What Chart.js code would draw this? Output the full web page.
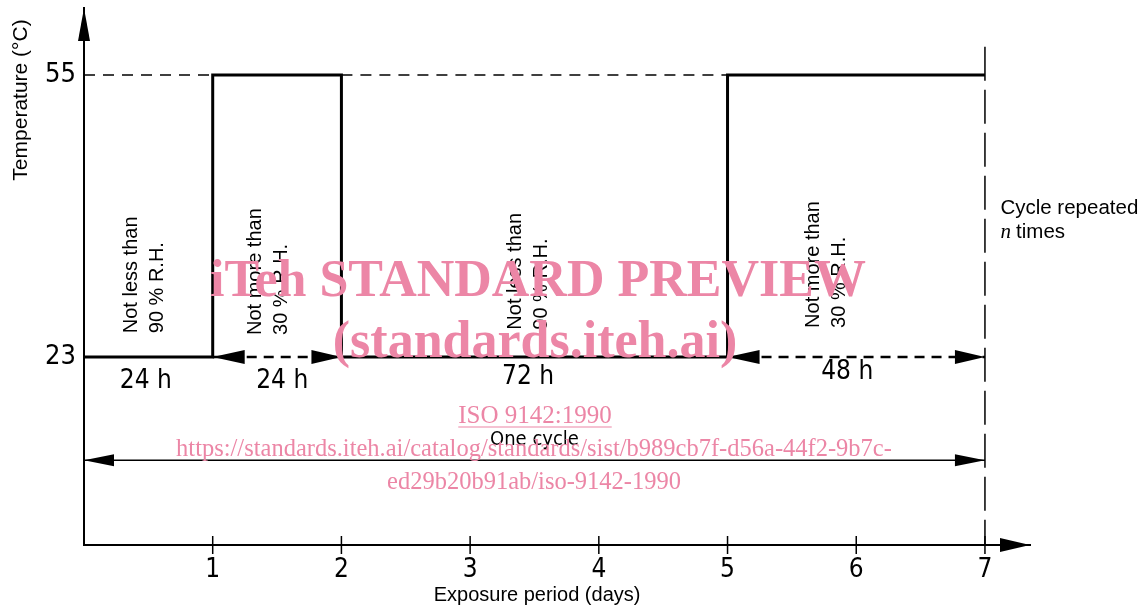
<!DOCTYPE html>
<html>
<head>
<meta charset="utf-8">
<script src="https://cdn.jsdelivr.net/npm/chart.js@4.4.1/dist/chart.umd.min.js"></script>
<style>
  html, body { margin: 0; padding: 0; background: #fff; }
  #wrap { width: 1146px; height: 608px; }
</style>
</head>
<body>
<div id="wrap"><canvas id="cycleChart"></canvas></div>
<script>
// axis ticks
var dayTicks = [1, 2, 3, 4, 5, 6, 7];
var tempTicks = [23, 55];

// temperature profile (solid step line)
var profileDays = [0, 1, 1, 2, 2, 5, 5, 7];
var profileTemps = [23, 23, 55, 55, 23, 23, 55, 55];

// dashed reference at 55 °C where temperature is low
var refDays = [0, 1, null, 2, 5];
var refTemps = [55, 55, null, 55, 55];

// dashed double arrows at 23 level during hot periods
var hotSpans = [[1, 2], [5, 7]];

// one cycle arrow
var cycleSpan = [0, 7];
var cycleTemp = 11.3;

// durations under the line
var durationLabels = ['24 h', '24 h', '72 h', '48 h'];
var durationDays = [0.48, 1.54, 3.45, 5.93];
var durationTemps = [20.2, 20.2, 20.7, 21.3];

// humidity notes (rotated)
var rhNotes = [['Not less than', '90 % R.H.'], ['Not more than', '30 % R.H.'],
               ['Not less than', '90 % R.H.'], ['Not more than', '30 % R.H.']];
var rhDays = [0.47, 1.43, 3.45, 5.77];
var rhTemps = [25.7, 25.5, 26.1, 26.3];

var narrow = '"Liberation Sans Narrow", "DejaVu Sans Condensed", sans-serif';
var sans = '"Liberation Sans", Arial, sans-serif';
var pink = '#ec86a6';

function pts(xs, ys) {
	var out = [];
	for (var i = 0; i < xs.length; i++) out.push({x: xs[i], y: ys[i]});
	return out;
}

function head(ctx, x, y, dx, dy, len, half) {
	ctx.beginPath();
	ctx.moveTo(x, y);
	ctx.lineTo(x - dx * len - dy * half, y - dy * len + dx * half);
	ctx.lineTo(x - dx * len + dy * half, y - dy * len - dx * half);
	ctx.closePath();
	ctx.fill();
}

var overlay = {
	id: 'overlay',
	afterDatasetsDraw: function(chart) {
		var ctx = chart.ctx, xs = chart.scales.x, ys = chart.scales.y, a = chart.chartArea;
		ctx.save();
		ctx.fillStyle = '#000';
		ctx.strokeStyle = '#000';

		// axis arrows
		head(ctx, a.left, a.top, 0, -1, 33, 6);
		head(ctx, a.right, a.bottom, 1, 0, 30, 7);

		// crossing ticks on the day axis
		ctx.lineWidth = 1.5;
		dayTicks.forEach(function(d) {
			var px = xs.getPixelForValue(d);
			ctx.beginPath();
			ctx.moveTo(px, a.bottom - 9);
			ctx.lineTo(px, a.bottom + 9);
			ctx.stroke();
		});

		// arrow heads on the hot spans
		var y23 = ys.getPixelForValue(23);
		hotSpans.forEach(function(s) {
			head(ctx, xs.getPixelForValue(s[0]), y23, -1, 0, 32, 7);
			head(ctx, xs.getPixelForValue(s[1]), y23, 1, 0, 30, 7);
		});

		// one cycle arrow heads
		var yc = ys.getPixelForValue(cycleTemp);
		head(ctx, xs.getPixelForValue(cycleSpan[0]), yc, -1, 0, 30, 6);
		head(ctx, xs.getPixelForValue(cycleSpan[1]), yc, 1, 0, 30, 6);

		// durations
		ctx.font = '26px ' + narrow;
		ctx.textAlign = 'center';
		ctx.textBaseline = 'middle';
		durationLabels.forEach(function(t, i) {
			ctx.fillText(t, xs.getPixelForValue(durationDays[i]), ys.getPixelForValue(durationTemps[i]));
		});

		ctx.font = '20px ' + narrow;
		ctx.fillText('One cycle', xs.getPixelForValue(3.5), ys.getPixelForValue(13.6));

		// humidity notes
		ctx.font = '20px ' + sans;
		ctx.textAlign = 'left';
		rhNotes.forEach(function(lines, i) {
			var cx = xs.getPixelForValue(rhDays[i]), by = ys.getPixelForValue(rhTemps[i]);
			lines.forEach(function(t, j) {
				ctx.save();
				ctx.translate(cx + (j - 0.5) * 26, by);
				ctx.rotate(-Math.PI / 2);
				ctx.fillText(t, 0, 0);
				ctx.restore();
			});
		});

		// cycle repeated note
		var nx = xs.getPixelForValue(7.12);
		ctx.font = '20.5px ' + sans;
		ctx.fillText('Cycle repeated', nx, ys.getPixelForValue(39.9));
		ctx.font = 'italic 21px "Liberation Serif", serif';
		ctx.fillText('n', nx, ys.getPixelForValue(37.1));
		ctx.font = '20.5px ' + sans;
		ctx.fillText(' times', nx + 10, ys.getPixelForValue(37.1));

		// axis titles
		ctx.font = '20px ' + sans;
		ctx.textAlign = 'center';
		ctx.fillText('Exposure period (days)', xs.getPixelForValue(3.52), 595);
		ctx.save();
		ctx.translate(21, 100);
		ctx.rotate(-Math.PI / 2);
		ctx.font = '21px ' + sans;
		ctx.fillText('Temperature (°C)', 0, 0);
		ctx.restore();
		ctx.restore();
	},
	afterDraw: function(chart) {
		// watermark of the source document
		var ctx = chart.ctx;
		ctx.save();
		ctx.fillStyle = pink;
		ctx.strokeStyle = pink;
		ctx.textAlign = 'center';
		ctx.textBaseline = 'alphabetic';
		ctx.font = 'bold 52px "Liberation Serif", serif';
		ctx.fillText('iTeh STANDARD PREVIEW', 538, 296);
		ctx.fillText('(standards.iteh.ai)', 535, 357);
		ctx.font = '25px "Liberation Serif", serif';
		ctx.fillText('ISO 9142:1990', 535, 423);
		var w = ctx.measureText('ISO 9142:1990').width;
		ctx.lineWidth = 1.2;
		ctx.beginPath();
		ctx.moveTo(535 - w / 2, 427);
		ctx.lineTo(535 + w / 2, 427);
		ctx.stroke();
		ctx.font = '24.5px "Liberation Serif", serif';
		ctx.fillText('https://standards.iteh.ai/catalog/standards/sist/b989cb7f-d56a-44f2-9b7c-', 534, 456);
		ctx.fillText('ed29b20b91ab/iso-9142-1990', 534, 489);
		ctx.restore();
	}
};

var ctx = document.getElementById('cycleChart').getContext('2d');
var cycleChart = new Chart(ctx, {
	type: 'line',
	data: {
		datasets: [{
			label: 'Temperature',
			data: pts(profileDays, profileTemps),
			borderColor: '#000',
			borderWidth: 3,
			pointRadius: 0
		}, {
			label: '55 reference',
			data: pts(refDays, refTemps),
			borderColor: '#000',
			borderWidth: 1.5,
			borderDash: [11, 8],
			pointRadius: 0,
			spanGaps: false
		}, {
			label: 'Hot spans',
			data: pts([hotSpans[0][0], hotSpans[0][1], null, hotSpans[1][0], hotSpans[1][1]], [23, 23, null, 23, 23]),
			borderColor: '#000',
			borderWidth: 2.5,
			borderDash: [10, 7],
			pointRadius: 0,
			spanGaps: false
		}, {
			label: 'Cycle end',
			data: pts([7, 7], [58.2, 1.67]),
			borderColor: '#000',
			borderWidth: 1.5,
			borderDash: [34, 9],
			pointRadius: 0
		}, {
			label: 'One cycle',
			data: pts(cycleSpan, [cycleTemp, cycleTemp]),
			borderColor: '#000',
			borderWidth: 1.5,
			pointRadius: 0
		}]
	},
	options: {
		responsive: true,
		maintainAspectRatio: false,
		animation: false,
		layout: { padding: { left: 0, top: 8, right: 116, bottom: 0 } },
		plugins: { legend: { display: false }, tooltip: { enabled: false } },
		scales: {
			x: {
				type: 'linear',
				min: 0,
				max: 7.35,
				afterBuildTicks: function(s) { s.ticks = dayTicks.map(function(v) { return {value: v}; }); },
				afterFit: function(s) { s.height = 63; s.paddingLeft = 0; s.paddingRight = 0; },
				grid: { display: false, drawTicks: false },
				border: { display: true, color: '#000', width: 2 },
				ticks: { color: '#000', padding: 10, maxRotation: 0, autoSkip: false, font: { family: narrow, size: 26 } }
			},
			y: {
				type: 'linear',
				min: 1.67,
				max: 62.6,
				afterBuildTicks: function(s) { s.ticks = tempTicks.map(function(v) { return {value: v}; }); },
				afterFit: function(s) { s.width = 84; s.paddingTop = 0; s.paddingBottom = 0; },
				grid: { display: false, drawTicks: false },
				border: { display: true, color: '#000', width: 2 },
				ticks: { color: '#000', padding: 8, autoSkip: false, font: { family: narrow, size: 27 } }
			}
		}
	},
	plugins: [overlay]
});
</script>
</body>
</html>
